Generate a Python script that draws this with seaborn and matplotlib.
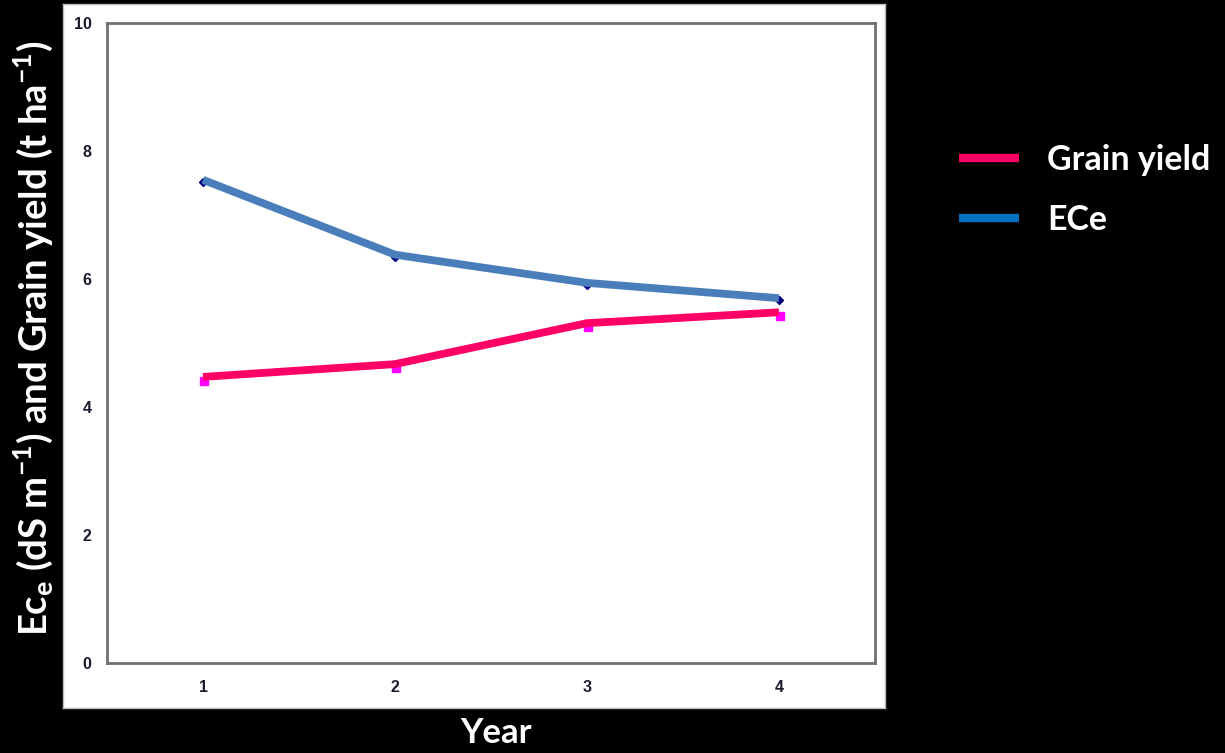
import numpy as np
import pandas as pd
import matplotlib
matplotlib.use("Agg")
import matplotlib.pyplot as plt
import matplotlib.transforms as mtransforms
from matplotlib.lines import Line2D
import seaborn as sns

# -----------------------------------------------------------------
# data
# -----------------------------------------------------------------
years = [1, 2, 3, 4]
ece_values = [7.55, 6.38, 5.94, 5.70]
grain_values = [4.47, 4.67, 5.31, 5.48]
series_names = ["Grain yield", "ECe"]
y_ticks = [0, 2, 4, 6, 8, 10]

df = pd.DataFrame({
    "Year": years * 2,
    "value": grain_values + ece_values,
    "series": ["Grain yield"] * len(years) + ["ECe"] * len(years),
})

line_colors = {"Grain yield": "#ff0066", "ECe": "#4a7ebb"}
legend_colors = {"Grain yield": "#ff0066", "ECe": "#0070c0"}
label_font = ["Lato", "DejaVu Sans"]

sns.set_style("white")
plt.rcParams["font.family"] = ["Liberation Sans", "DejaVu Sans"]

fig = plt.figure(figsize=(12.25, 7.53), dpi=100, facecolor="black")

# white chart panel behind the plot area
bg = fig.add_axes([63 / 1225, 1 - 708 / 753, (885 - 63) / 1225, (708 - 4) / 753], zorder=-1)
bg.set_facecolor("white")
bg.set_xticks([])
bg.set_yticks([])
for sp in bg.spines.values():
    sp.set_color("#bbbbbb")
    sp.set_linewidth(1)

ax = fig.add_axes([107 / 1225, 1 - 663 / 753, (875 - 107) / 1225, (663 - 23) / 753])
ax.patch.set_alpha(0)

sns.lineplot(data=df, x="Year", y="value", hue="series", palette=line_colors,
             linewidth=5.6, ax=ax, legend=False, zorder=3,
             solid_capstyle="butt")

# small point markers, drawn a touch below the lines as in the original
shift_g = mtransforms.ScaledTranslation(1 / 100, -4 / 100, fig.dpi_scale_trans)
shift_e = mtransforms.ScaledTranslation(0, -2 / 100, fig.dpi_scale_trans)
ax.plot(years, grain_values, ls="none", marker="s", ms=6, color="#ff00ff",
        transform=ax.transData + shift_g, zorder=2)
ax.plot(years, ece_values, ls="none", marker="D", ms=4.5, color="#000080",
        transform=ax.transData + shift_e, zorder=2)

ax.set_xlim(0.5, 4.5)
ax.set_ylim(0, 10)
ax.set_yticks(y_ticks)
ax.set_xticks(years)
ax.set_xticks([0.5, 1.5, 2.5, 3.5, 4.5], minor=True)
ax.tick_params(axis="x", which="major", length=0, pad=12)
ax.tick_params(axis="x", which="minor", length=8, width=2, color="#707070", direction="out")
ax.tick_params(axis="y", length=7, width=2, color="#707070", direction="out", pad=4)
for lab in ax.get_xticklabels() + ax.get_yticklabels():
    lab.set_fontsize(11.5)
    lab.set_fontweight("bold")
    lab.set_color("#1c1c30")

for sp in ax.spines.values():
    sp.set_visible(True)
    sp.set_color("#707070")
    sp.set_linewidth(2)

ax.set_xlabel("")
ax.set_ylabel("")

fig.text(33 / 1225, 1 - 338 / 753,
         r"Ec$_\mathregular{e}$ (dS m$^\mathregular{-1}$) and Grain yield (t ha$^\mathregular{-1}$)",
         rotation=90, ha="center", va="center", color="white",
         fontsize=27.5, fontweight="bold", family=label_font)
fig.text(496 / 1225, 1 - 733 / 753, "Year", ha="center", va="center", color="white",
         fontsize=25, fontweight="bold", family=label_font)

handles = [Line2D([0], [0], color=legend_colors[s], lw=6, solid_capstyle="butt")
           for s in series_names]
leg = fig.legend(handles, series_names, loc="upper left",
                 bbox_to_anchor=(928 / 1225, 1 - 113 / 753), frameon=False,
                 prop={"family": label_font, "weight": "bold", "size": 24.5},
                 handlelength=1.76, handletextpad=0.85, labelspacing=0.82)
for t in leg.get_texts():
    t.set_color("white")

fig.savefig("out.png", dpi=100, facecolor="black")
